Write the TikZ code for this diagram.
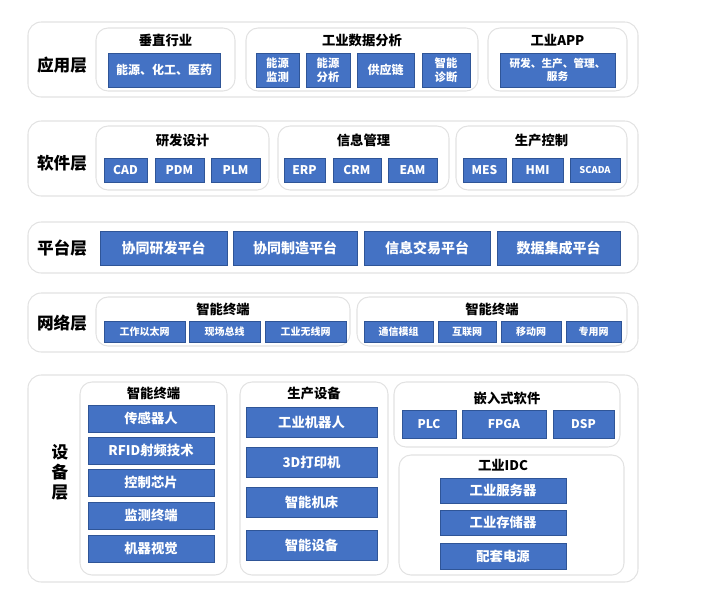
\documentclass[tikz,border=0pt]{standalone}
\usepackage{fontspec}
\setmainfont{Noto Sans CJK SC}
\usetikzlibrary{fit}
\definecolor{bfill}{HTML}{4472C4}
\definecolor{bdraw}{HTML}{2F5597}
\definecolor{gline}{HTML}{E2E2E2}
\tikzset{
 outerbox/.style={draw=gline,line width=0.8pt,rounded corners=10pt,inner sep=0pt},
 grpbox/.style={draw=gline,line width=0.8pt,rounded corners=9pt,inner sep=0pt},
 bx/.style={draw=bdraw,fill=bfill,line width=0.6pt,inner sep=0pt},
 bxt/.style={text=white,inner sep=0pt,align=center},
 ttl/.style={font=\bfseries\fontsize{10}{12}\selectfont},
 lyr/.style={font=\bfseries\fontsize{12.5}{15}\selectfont,align=center}
}
\newcommand\R[6][bx]{\node[#1,fit={(#3,#4) (#5,#6)}] (#2) {};}
\newcommand\B[7][\fontsize{9}{11}]{\node[bx,fit={(#3,#4) (#5,#6)}] (#2) {};
 \node[bxt,font=\bfseries#1\selectfont] (#2t) at (#2.center) {#7};}
\begin{document}
\begin{tikzpicture}[x=0.75pt,y=-0.75pt]
\useasboundingbox (0,0) rectangle (717,597);
% layer 1
\R[outerbox]{L1}{28}{22}{638}{97}
\node[lyr] (l1) at (62,65) {应用层};
\R[grpbox]{g11}{96}{28}{235}{91}
\node[ttl] (t11) at (165.5,40) {垂直行业};
\B{b111}{108}{53}{220}{87}{能源、化工、医药}
\R[grpbox]{g12}{246}{28}{478}{91}
\node[ttl] (t12) at (362,40) {工业数据分析};
\B[\fontsize{8.5}{10.5}]{b121}{256}{53}{299}{87}{能源\\监测}
\B[\fontsize{8.5}{10.5}]{b122}{306}{53}{350}{87}{能源\\分析}
\B{b123}{357}{53}{414}{87}{供应链}
\B[\fontsize{8.5}{10.5}]{b124}{422}{53}{470}{87}{智能\\诊断}
\R[grpbox]{g13}{488}{28}{627}{91}
\node[ttl] (t13) at (557.5,40) {工业APP};
\B[\fontsize{8}{10}]{b131}{500}{53}{615}{87}{研发、生产、管理、\\服务}
% layer 2
\R[outerbox]{L2}{28}{121}{638}{196}
\node[lyr] (l2) at (62,163) {软件层};
\R[grpbox]{g21}{96}{126}{269}{190}
\node[ttl] (t21) at (182.5,140) {研发设计};
\B{b211}{104}{158}{147}{182}{CAD}
\B{b212}{155}{158}{204}{182}{PDM}
\B{b213}{211}{158}{260}{182}{PLM}
\R[grpbox]{g22}{278}{126}{449}{190}
\node[ttl] (t22) at (363.5,140) {信息管理};
\B{b221}{284}{158}{325}{182}{ERP}
\B{b222}{333}{158}{381}{182}{CRM}
\B{b223}{388}{158}{437}{182}{EAM}
\R[grpbox]{g23}{456}{126}{627}{190}
\node[ttl] (t23) at (541.5,140) {生产控制};
\B{b231}{463}{158}{506}{182}{MES}
\B{b232}{512}{158}{563}{182}{HMI}
\B[\fontsize{7}{8}]{b233}{570}{158}{620}{182}{SCADA}
% layer 3
\R[outerbox]{L3}{28}{222}{638}{273}
\node[lyr] (l3) at (62,248) {平台层};
\B[\fontsize{10.5}{12}]{b31}{100}{231}{227}{265}{协同研发平台}
\B[\fontsize{10.5}{12}]{b32}{233}{231}{357}{265}{协同制造平台}
\B[\fontsize{10.5}{12}]{b33}{364}{231}{490}{265}{信息交易平台}
\B[\fontsize{10.5}{12}]{b34}{497}{231}{620}{265}{数据集成平台}
% layer 4
\R[outerbox]{L4}{28}{293}{638}{352}
\node[lyr] (l4) at (62,323) {网络层};
\R[grpbox]{g41}{96}{297}{350}{346}
\node[ttl] (t41) at (223,309) {智能终端};
\B[\fontsize{7.5}{9}]{b411}{104}{321}{185}{342}{工作以太网}
\B[\fontsize{7.5}{9}]{b412}{189}{321}{260}{342}{现场总线}
\B[\fontsize{7.5}{9}]{b413}{265}{321}{346}{342}{工业无线网}
\R[grpbox]{g42}{357}{297}{627}{346}
\node[ttl] (t42) at (492,309) {智能终端};
\B[\fontsize{7.5}{9}]{b421}{364}{321}{433}{342}{通信模组}
\B[\fontsize{7.5}{9}]{b422}{438}{321}{496}{342}{互联网}
\B[\fontsize{7.5}{9}]{b423}{501}{321}{561}{342}{移动网}
\B[\fontsize{7.5}{9}]{b424}{566}{321}{621}{342}{专用网}
% layer 5
\R[outerbox]{L5}{28}{375}{638}{582}
\node[lyr] (l5) at (60,472) {设\\备\\层};
\R[grpbox]{g51}{80}{382}{227}{575}
\node[ttl] (t51) at (153.5,393) {智能终端};
\B[\fontsize{10}{12}]{b511}{88}{405}{214}{432}{传感器人}
\B[\fontsize{10}{12}]{b512}{88}{437}{214}{464}{RFID射频技术}
\B[\fontsize{10}{12}]{b513}{88}{469}{214}{496}{控制芯片}
\B[\fontsize{10}{12}]{b514}{88}{502}{214}{529}{监测终端}
\B[\fontsize{10}{12}]{b515}{88}{535}{214}{562}{机器视觉}
\R[grpbox]{g52}{240}{382}{388}{575}
\node[ttl] (t52) at (314,393) {生产设备};
\B[\fontsize{10}{12}]{b521}{246}{407}{377}{437}{工业机器人}
\B[\fontsize{10}{12}]{b522}{246}{447}{377}{477}{3D打印机}
\B[\fontsize{10}{12}]{b523}{246}{487}{377}{517}{智能机床}
\B[\fontsize{10}{12}]{b524}{246}{530}{377}{560}{智能设备}
\R[grpbox]{g53}{394}{382}{620}{447}
\node[ttl] (t53) at (507,398) {嵌入式软件};
\B{b531}{402}{410}{456}{438}{PLC}
\B{b532}{462}{410}{546}{438}{FPGA}
\B{b533}{553}{410}{614}{438}{DSP}
\R[grpbox]{g54}{399}{455}{624}{575}
\node[ttl] (t54) at (503,465) {工业IDC};
\B[\fontsize{10}{12}]{b541}{440}{478}{566}{503}{工业服务器}
\B[\fontsize{10}{12}]{b542}{440}{510}{566}{535}{工业存储器}
\B[\fontsize{10}{12}]{b543}{440}{543}{566}{569}{配套电源}
\end{tikzpicture}
\end{document}
